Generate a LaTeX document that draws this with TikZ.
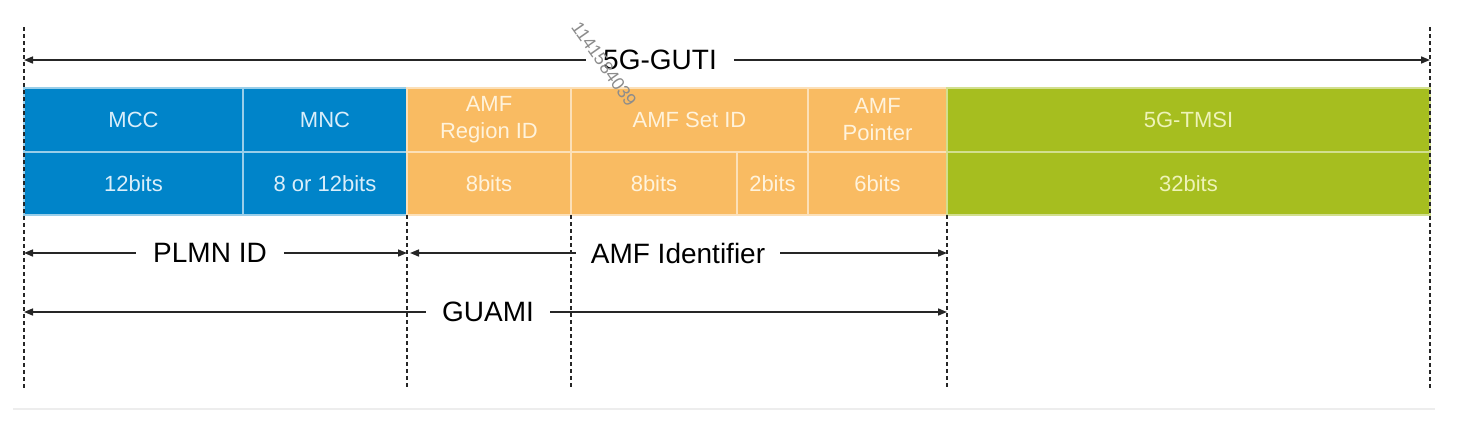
\documentclass[tikz,border=0pt]{standalone}
\usepackage{fontspec}
\setmainfont{Liberation Sans}
\usetikzlibrary{arrows.meta,positioning,calc}
\definecolor{mblue}{RGB}{0,132,201}
\definecolor{morange}{RGB}{249,187,98}
\definecolor{mgreen}{RGB}{166,190,31}
\definecolor{tblue}{RGB}{218,238,250}
\definecolor{torange}{RGB}{255,243,220}
\definecolor{tgreen}{RGB}{238,243,184}
\begin{document}
\begin{tikzpicture}[x=1pt,y=-1pt,>={Triangle[length=9pt,width=7pt]},
  cell/.style={minimum height=#1,inner sep=0pt,align=center,line width=1.4pt,
    font=\fontsize{22}{27}\selectfont},
  bluec/.style={cell=64pt,fill=mblue,draw=mblue!40!white,text=tblue},
  orangec/.style={cell=64pt,fill=morange,draw=morange!45!white,text=torange},
  greenc/.style={cell=64pt,fill=mgreen,draw=mgreen!50!white,text=tgreen},
  span/.style={line width=1.6pt,draw=black!85},
  spanlbl/.style={inner xsep=17pt,inner ysep=0pt,font=\fontsize{28}{30}\selectfont},
  guide/.style={line width=1.5pt,dash pattern=on 4pt off 3pt,black!85}]
\useasboundingbox (0,0) rectangle (1459,426);
%top row
\node[bluec,minimum width=219pt] (mcc) at (133.5,120) {MCC};
\node[bluec,minimum width=164pt] (mnc) at (325,120) {MNC};
\node[orangec,minimum width=164pt] (region) at (489,120) {AMF\\Region ID};
\node[orangec,minimum width=237pt] (setid) at (689.5,120) {AMF Set ID};
\node[orangec,minimum width=139pt] (pointer) at (877.5,120) {AMF\\Pointer};
\node[greenc,minimum width=483pt] (tmsi) at (1188.5,120) {5G-TMSI};
%bottom row
\node[bluec,cell=63pt,minimum width=219pt] (mccbits) at (133.5,183.5) {12bits};
\node[bluec,cell=63pt,minimum width=164pt] (mncbits) at (325,183.5) {8 or 12bits};
\node[orangec,cell=63pt,minimum width=164pt] (regionbits) at (489,183.5) {8bits};
\node[orangec,cell=63pt,minimum width=166pt] (setbitsa) at (654,183.5) {8bits};
\node[orangec,cell=63pt,minimum width=71pt] (setbitsb) at (772.5,183.5) {2bits};
\node[orangec,cell=63pt,minimum width=139pt] (pointerbits) at (877.5,183.5) {6bits};
\node[greenc,cell=63pt,minimum width=483pt] (tmsibits) at (1188.5,183.5) {32bits};
%guides
\coordinate (l0) at (24,27);    \coordinate (l1) at (24,388);
\coordinate (r0) at (1430,27);  \coordinate (r1) at (1430,388);
\coordinate (p0) at (407,215);  \coordinate (p1) at (407,388);
\coordinate (s0) at (571,215);  \coordinate (s1) at (571,388);
\coordinate (a0) at (947,215);  \coordinate (a1) at (947,388);
\draw[guide] (l0) -- (l1);
\draw[guide] (r0) -- (r1);
\draw[guide] (p0) -- (p1);
\draw[guide] (s0) -- (s1);
\draw[guide] (a0) -- (a1);
%spans
\node[spanlbl] (guti) at (660,60) {5G-GUTI};
\draw[span,<-] (24,60) -- (guti.west);
\draw[span,->] (guti.east) -- (1430,60);
\node[spanlbl] (plmn) at (210,253) {PLMN ID};
\draw[span,<-] (24,253) -- (plmn.west);
\draw[span,->] (plmn.east) -- (407,253);
\node[spanlbl,inner xsep=15pt] (amfid) at (678,253) {AMF Identifier};
\draw[span,<-] (410,253) -- (amfid.west);
\draw[span,->] (amfid.east) -- (947,253);
\node[spanlbl,inner xsep=16pt] (guami) at (488,312) {GUAMI};
\draw[span,<-] (24,312) -- (guami.west);
\draw[span,->] (guami.east) -- (947,312);
%watermark and frame
\node[text=black!45,rotate=-55,font=\fontsize{18}{20}\selectfont] (mark) at (604,64) {1141584039};
\draw[black!7,line width=1.5pt] (13,409) -- (1435,409);
\end{tikzpicture}
\end{document}
